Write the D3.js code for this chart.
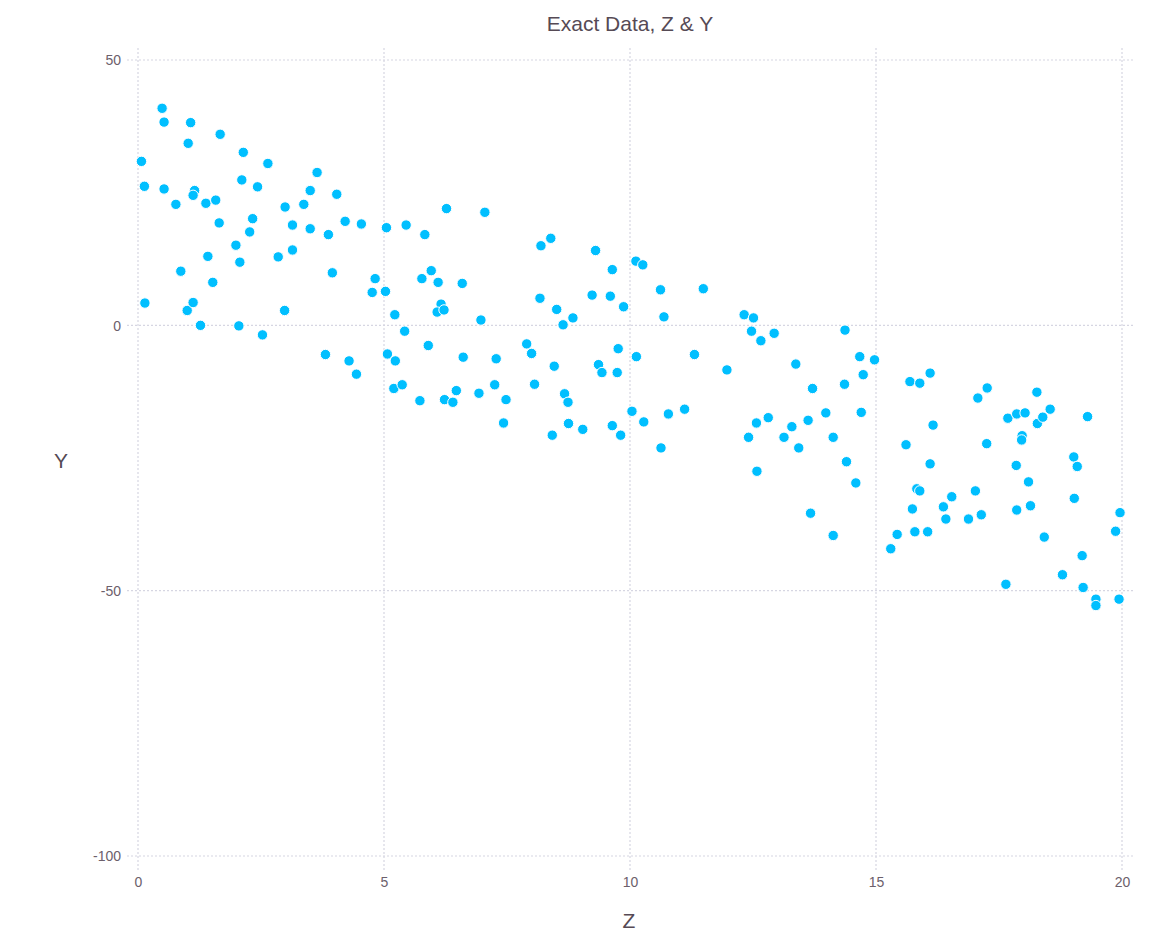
<!DOCTYPE html>
<html>
<head>
<meta charset="utf-8">
<script src="https://cdn.jsdelivr.net/npm/d3@7"></script>
<style>
  html, body { margin: 0; padding: 0; background: #fff; }
  svg { display: block; }
</style>
</head>
<body>
<svg id="chart" width="1154" height="933"></svg>
<script>
// Sample values: Z (horizontal) and Y (vertical)
const zValues = [
  0.49, 0.53, 1.07, 1.02, 1.67, 2.14, 0.07, 2.64, 3.64, 0.13,
  0.53, 2.11, 2.43, 1.15, 1.12, 3.50, 4.04, 0.77, 1.38, 1.58,
  2.99, 3.37, 6.27, 2.33, 1.65, 2.27, 3.14, 3.50, 3.87, 4.21,
  4.54, 5.05, 5.45, 5.83, 1.99, 1.42, 2.07, 2.85, 3.14, 0.87,
  1.52, 3.95, 4.82, 4.76, 5.03, 5.77, 5.96, 6.10, 6.59, 0.14,
  1.00, 1.12, 2.98, 5.22, 6.16, 6.08, 6.22, 1.27, 2.05, 2.53,
  5.42, 5.90, 3.81, 4.29, 4.44, 5.07, 5.23, 6.61, 5.20, 5.37,
  5.73, 6.23, 6.40, 6.47, 7.05, 8.19, 8.39, 9.30, 9.64, 10.12,
  10.26, 8.17, 8.51, 8.64, 8.84, 9.23, 9.60, 9.87, 10.62, 11.49,
  10.69, 6.97, 12.32, 12.51, 12.47, 12.66, 12.93, 7.90, 9.76, 7.28,
  8.00, 8.46, 9.36, 9.43, 9.74, 10.13, 11.31, 11.97, 13.37, 6.93,
  7.25, 7.48, 7.43, 8.06, 8.67, 8.74, 8.42, 8.75, 9.04, 9.64,
  9.81, 10.04, 10.28, 10.78, 11.11, 10.63, 12.41, 12.57, 12.81, 12.58,
  13.13, 13.29, 13.43, 14.67, 14.97, 14.74, 14.36, 13.71, 13.98, 13.62,
  14.70, 14.13, 14.40, 14.59, 13.67, 14.13, 15.69, 15.89, 16.10, 16.16,
  15.61, 16.10, 15.83, 15.89, 15.74, 16.37, 16.54, 16.42, 15.43, 15.30,
  15.79, 16.05, 17.02, 16.88, 17.14, 17.07, 17.26, 17.25, 17.64, 17.68,
  17.86, 18.03, 18.27, 18.28, 18.39, 18.54, 17.97, 17.96, 17.85, 18.10,
  17.86, 18.14, 18.42, 19.30, 19.02, 19.09, 19.03, 19.19, 18.79, 19.21,
  19.47, 19.47, 19.94, 19.96, 19.87, 14.37
];
const yValues = [
  40.9, 38.3, 38.2, 34.3, 36.0, 32.6, 30.9, 30.5, 28.8, 26.2,
  25.7, 27.4, 26.1, 25.4, 24.5, 25.4, 24.7, 22.8, 23.0, 23.6,
  22.3, 22.8, 22.0, 20.1, 19.3, 17.6, 18.9, 18.2, 17.1, 19.6,
  19.1, 18.4, 18.9, 17.1, 15.1, 13.0, 11.9, 12.9, 14.2, 10.2,
  8.1, 9.9, 8.8, 6.2, 6.4, 8.8, 10.3, 8.1, 7.9, 4.2,
  2.8, 4.3, 2.8, 2.0, 4.0, 2.5, 2.9, 0.0, -0.1, -1.8,
  -1.1, -3.8, -5.5, -6.7, -9.2, -5.4, -6.7, -6.0, -11.9, -11.2,
  -14.2, -14.0, -14.5, -12.3, 21.3, 15.0, 16.4, 14.1, 10.5, 12.1,
  11.4, 5.1, 3.0, 0.1, 1.4, 5.7, 5.5, 3.5, 6.7, 6.9,
  1.6, 1.0, 2.0, 1.4, -1.1, -2.9, -1.5, -3.5, -4.4, -6.3,
  -5.3, -7.7, -7.4, -8.9, -8.9, -5.9, -5.5, -8.4, -7.3, -12.8,
  -11.2, -14.0, -18.4, -11.1, -12.9, -14.5, -20.7, -18.5, -19.6, -18.9,
  -20.7, -16.2, -18.2, -16.7, -15.8, -23.1, -21.1, -18.4, -17.4, -27.5,
  -21.1, -19.1, -23.1, -5.9, -6.5, -9.3, -11.1, -11.9, -16.5, -17.9,
  -16.4, -21.1, -25.7, -29.7, -35.4, -39.6, -10.6, -10.9, -9.0, -18.8,
  -22.5, -26.1, -30.8, -31.2, -34.6, -34.2, -32.3, -36.5, -39.4, -42.1,
  -38.9, -38.9, -31.2, -36.5, -35.7, -13.7, -11.8, -22.3, -48.8, -17.5,
  -16.7, -16.5, -12.6, -18.5, -17.3, -15.8, -20.8, -21.6, -26.4, -29.5,
  -34.8, -34.0, -39.9, -17.2, -24.8, -26.6, -32.6, -43.4, -47.0, -49.4,
  -51.6, -52.8, -51.6, -35.3, -38.8, -0.9
];
const xTicks = [0, 5, 10, 15, 20];
const yTicks = [50, 0, -50, -100];

const points = zValues.map((z, i) => ({ z, y: yValues[i] }));

const svg = d3.select("#chart");
const x = d3.scaleLinear().domain([0, 20]).range([138, 1122]);
const y = d3.scaleLinear().domain([-100, 50]).range([856, 60]);

const gridColor = "#D6D6E2";
const labelColor = "#6C606B";
const titleColor = "#564A55";
const font = "'Liberation Sans', Helvetica, Arial, sans-serif";
const plainNumber = d => String(d);

// grid lines
const grid = svg.append("g");
grid.selectAll("line.vx").data(xTicks).join("line")
  .attr("x1", d => x(d)).attr("x2", d => x(d))
  .attr("y1", 48).attr("y2", 870)
  .attr("stroke", gridColor).attr("stroke-width", 1.2)
  .attr("stroke-dasharray", "2,2");
grid.selectAll("line.hy").data(yTicks).join("line")
  .attr("x1", 127).attr("x2", 1133)
  .attr("y1", d => y(d)).attr("y2", d => y(d))
  .attr("stroke", gridColor).attr("stroke-width", 1.2)
  .attr("stroke-dasharray", "2,2");

// axes (labels only, tick marks and domain lines hidden)
const xAxis = d3.axisBottom(x).tickValues(xTicks).tickFormat(plainNumber)
  .tickSize(0).tickPadding(0);
const gx = svg.append("g").attr("transform", "translate(0,876)").call(xAxis);
gx.select(".domain").remove();
gx.selectAll("text").attr("fill", labelColor).attr("font-size", 14)
  .attr("font-family", font).attr("dy", "0.75em");

const yAxis = d3.axisLeft(y).tickValues(yTicks).tickFormat(plainNumber)
  .tickSize(0).tickPadding(0);
const gy = svg.append("g").attr("transform", "translate(121,0)").call(yAxis);
gy.select(".domain").remove();
gy.selectAll("text").attr("fill", labelColor).attr("font-size", 14)
  .attr("font-family", font).attr("dy", "0.35em");

// points
svg.append("g").selectAll("circle").data(points).join("circle")
  .attr("cx", d => x(d.z)).attr("cy", d => y(d.y)).attr("r", 5.2)
  .attr("fill", "#00BFFF").attr("stroke", "#ffffff").attr("stroke-width", 1);

// title and axis labels
svg.append("text").attr("x", 630).attr("y", 31).attr("text-anchor", "middle")
  .attr("font-family", font).attr("font-size", 21).attr("fill", titleColor)
  .text("Exact Data, Z & Y");
svg.append("text").attr("x", 629).attr("y", 928).attr("text-anchor", "middle")
  .attr("font-family", font).attr("font-size", 21).attr("fill", titleColor)
  .text("Z");
svg.append("text").attr("x", 61).attr("y", 468).attr("text-anchor", "middle")
  .attr("font-family", font).attr("font-size", 21).attr("fill", titleColor)
  .text("Y");
</script>
</body>
</html>
